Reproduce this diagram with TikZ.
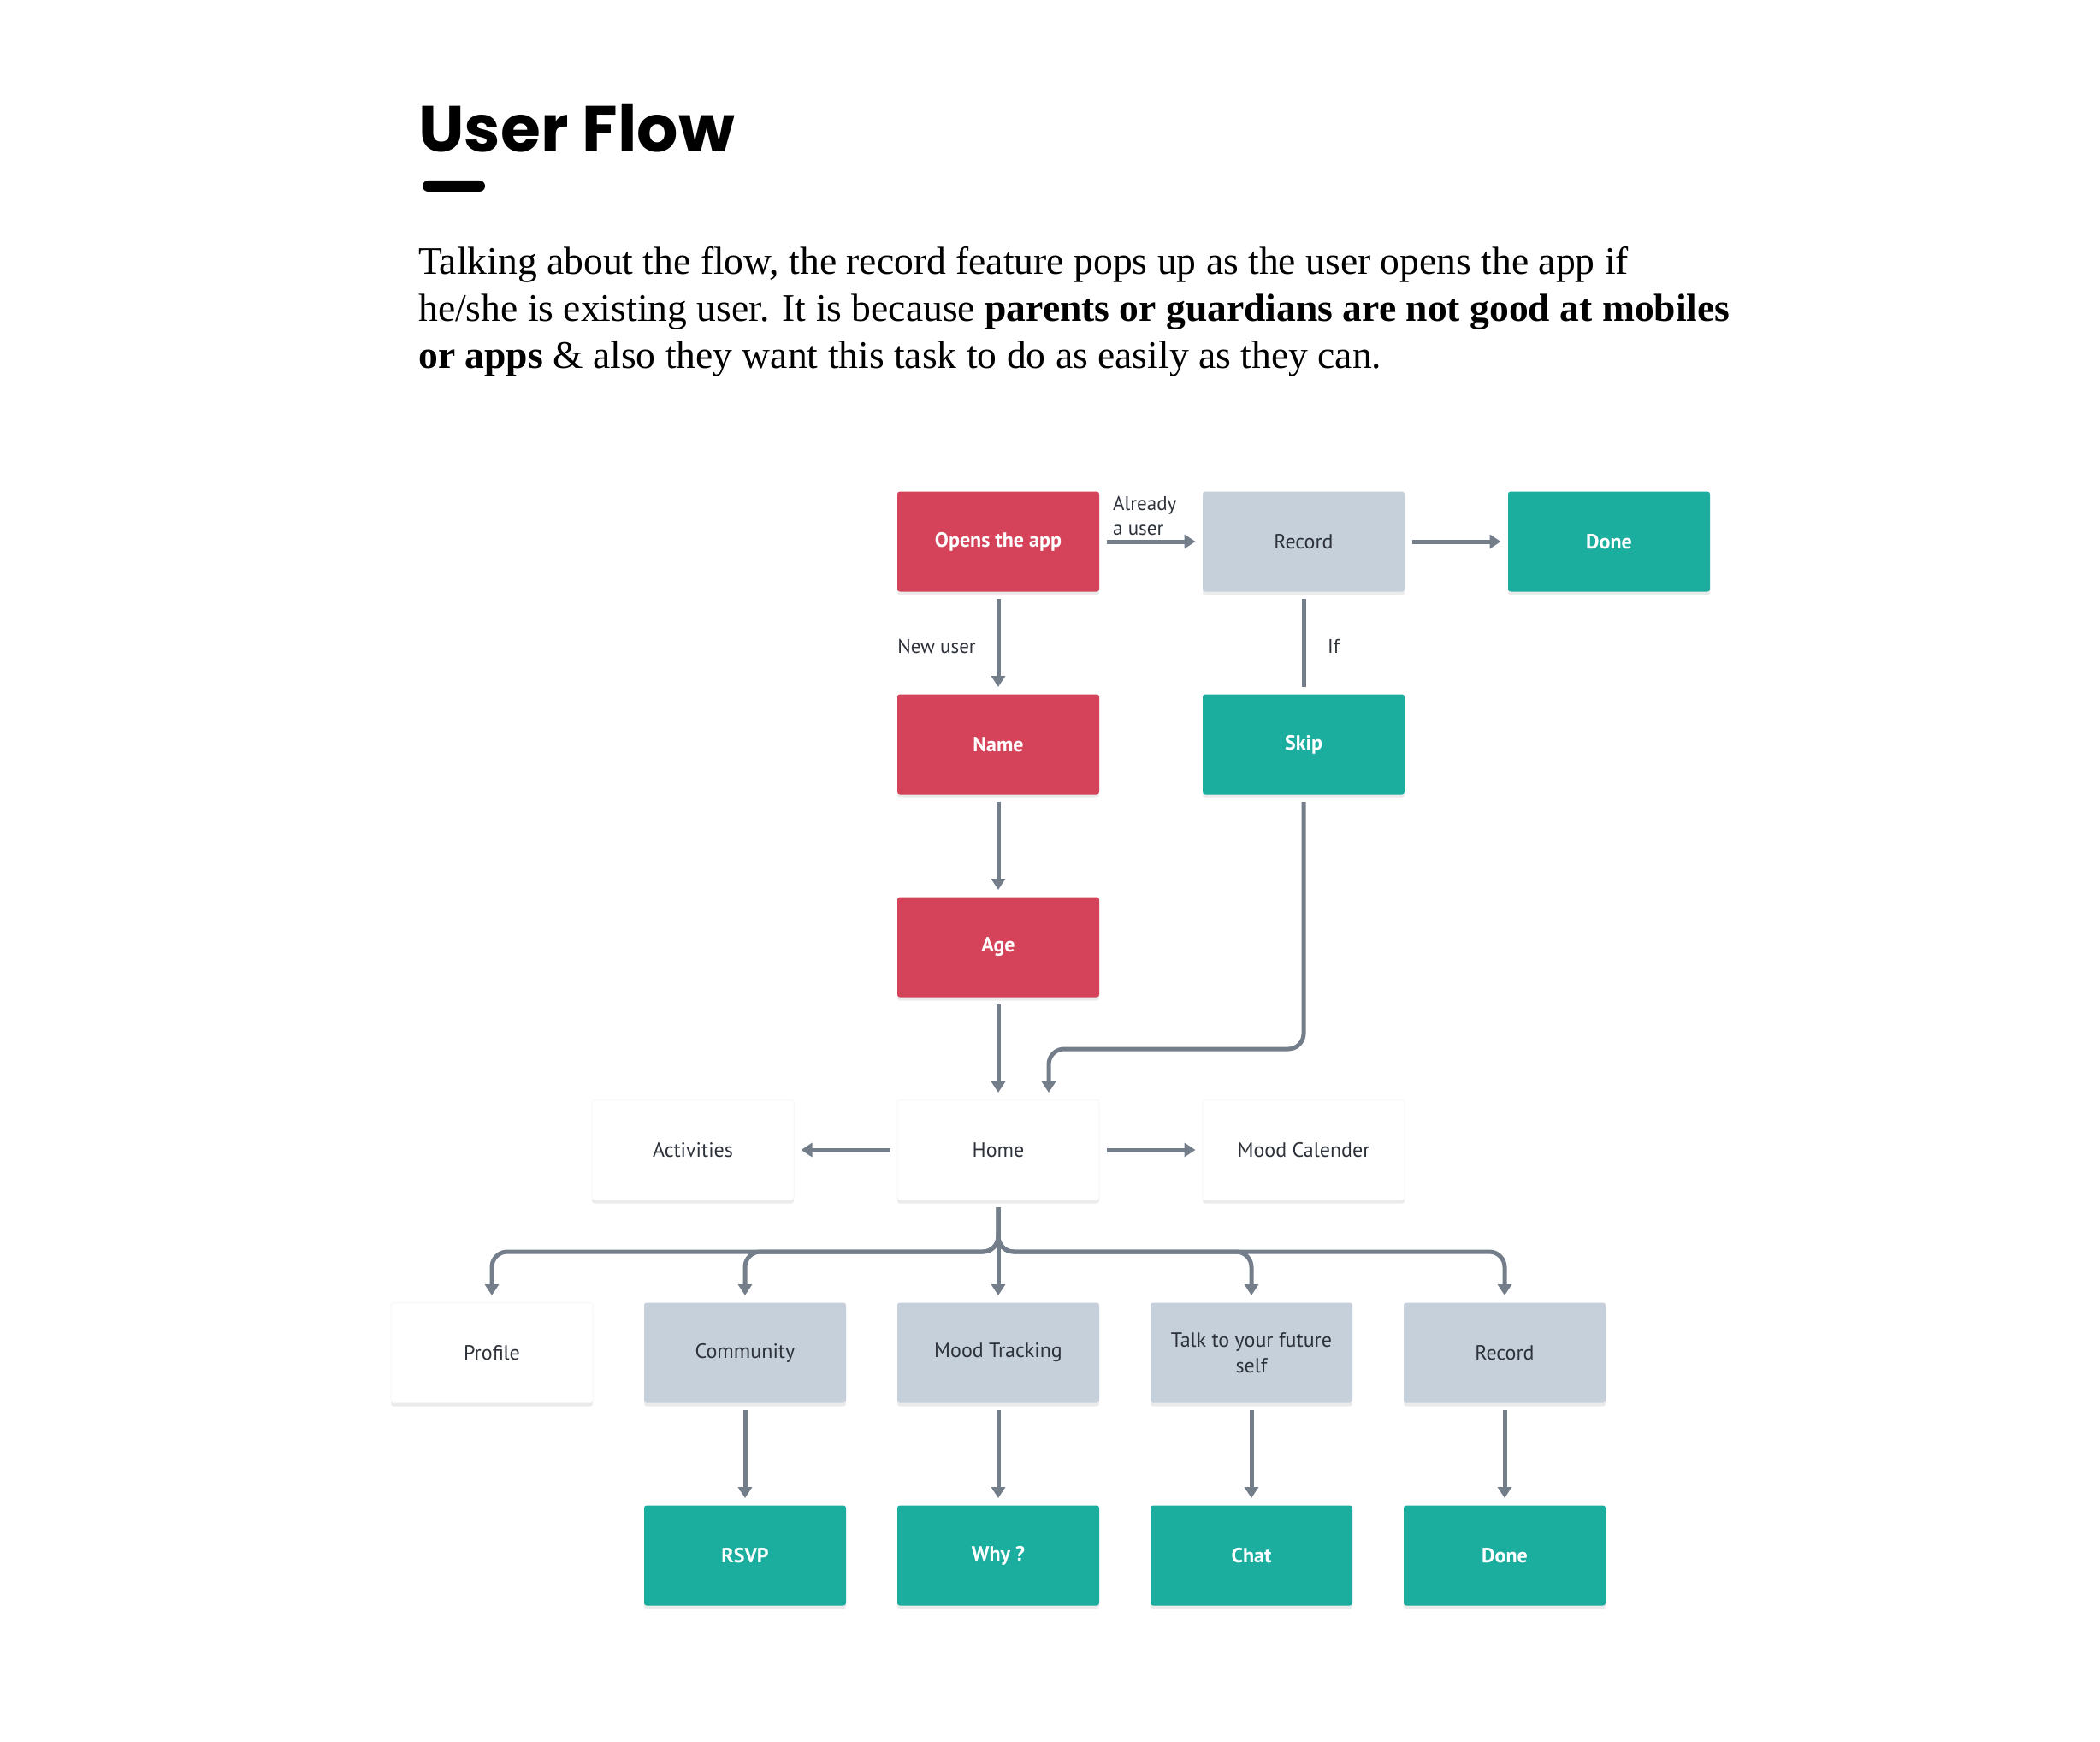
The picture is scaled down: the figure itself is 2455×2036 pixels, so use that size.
\documentclass[tikz,border=0pt]{standalone}
\usepackage{fontspec}
\setmainfont{Liberation Serif}
\newfontfamily\labfont{PT Sans}
\newfontfamily\titlefont{Poppins}
\usetikzlibrary{arrows.meta,shadows,calc}
\definecolor{cred}{RGB}{212,67,89}
\definecolor{cgray}{RGB}{197,208,218}
\definecolor{cteal}{RGB}{27,174,159}
\definecolor{cline}{RGB}{116,126,138}
\definecolor{ctext}{RGB}{45,50,58}
\begin{document}
\begin{tikzpicture}[x=1pt,y=-1pt,
  box/.style={minimum width=236pt, minimum height=117pt, rounded corners=3pt, inner sep=0pt, outer sep=8.5pt,
    font=\labfont\fontsize{24}{30}\selectfont, align=center,
    drop shadow={shadow xshift=0pt, shadow yshift=-4pt, opacity=0.08, fill=black}},
  redbox/.style={box, fill=cred, text=white, font=\labfont\bfseries\fontsize{24}{30}\selectfont},
  tealbox/.style={box, fill=cteal, text=white, font=\labfont\bfseries\fontsize{24}{30}\selectfont},
  graybox/.style={box, fill=cgray, text=ctext},
  whitebox/.style={box, fill=white, draw=black!3, line width=1pt, text=ctext},
  conn/.style={draw=cline, line width=5pt, -{Triangle[length=13pt,width=16pt]}},
  plainline/.style={draw=cline, line width=5pt},
  elabel/.style={inner sep=0pt, text=ctext, font=\labfont\fontsize{23}{29}\selectfont, align=left},
  bodytext/.style={inner sep=0pt, anchor=base west, font=\fontsize{45.6}{55}\selectfont}
]
\useasboundingbox (0,0) rectangle (2455,2036);
\fill[white] (0,0) rectangle (2455,2036);

% heading
\node[inner sep=0pt, anchor=base west] (title) at (489,178) {\titlefont\bfseries\fontsize{76}{80}\selectfont User Flow};
\fill[black, rounded corners=6.5pt] (494,211) rectangle (567,224);
\node[bodytext] (body1) at (489,320) {Talking about the flow, the record feature pops up as the user opens the app if};
\node[bodytext] (body2) at (489,375) {he/she is existing user. It is because \textbf{parents or guardians are not good at mobiles}};
\node[bodytext] (body3) at (489,430) {\textbf{or apps} \& also they want this task to do as easily as they can.};

% nodes
\node[redbox] (open) at (1167,633) {Opens the app};
\node[graybox] (rec1) at (1524,633) {Record};
\node[tealbox] (done1) at (1881,633) {Done};
\node[redbox] (name) at (1167,870) {Name};
\node[tealbox] (skip) at (1524,870) {Skip};
\node[redbox] (age) at (1167,1107) {Age};
\node[whitebox] (home) at (1167,1344) {Home};
\node[whitebox] (act) at (810,1344) {Activities};
\node[whitebox] (cal) at (1524,1344) {Mood Calender};
\node[whitebox] (prof) at (575,1581) {Profile};
\node[graybox] (comm) at (871,1581) {Community};
\node[graybox] (mt) at (1167,1581) {Mood Tracking};
\node[graybox] (talk) at (1463,1581) {Talk to your future\\self};
\node[graybox] (rec2) at (1759,1581) {Record};
\node[tealbox] (rsvp) at (871,1818) {RSVP};
\node[tealbox] (why) at (1167,1818) {Why ?};
\node[tealbox] (chat) at (1463,1818) {Chat};
\node[tealbox] (done2) at (1759,1818) {Done};

% edge labels
\node[elabel, anchor=south west] (lalready) at (1301,626) {Already\\a user};
\node[elabel, anchor=east] (lnew) at (1141,755) {New user};
\node[elabel, anchor=west] (lif) at (1552,755) {If};

% connectors
\draw[conn] (open.east) -- (rec1.west);
\draw[conn] (rec1.east) -- (done1.west);
\draw[conn] (open.south) -- (name.north);
\draw[plainline] (rec1.south) -- (skip.north);
\draw[conn] (name.south) -- (age.north);
\draw[conn] (age.south) -- (home.north);
\coordinate (skipturn) at (1226,1226);
\draw[conn, rounded corners=18pt] (skip.south) |- (skipturn) -- ([xshift=59pt]home.north);
\draw[conn] (home.west) -- (act.east);
\draw[conn] (home.east) -- (cal.west);
\coordinate (bus) at (1167,1463);
\foreach \t in {prof,comm,talk,rec2}{
  \draw[conn, rounded corners=18pt] (home.south) -- (home.south |- bus) -- (bus -| \t.north) -- (\t.north);
}
\draw[conn] (home.south) -- (mt.north);
\draw[conn] (comm.south) -- (rsvp.north);
\draw[conn] (mt.south) -- (why.north);
\draw[conn] (talk.south) -- (chat.north);
\draw[conn] (rec2.south) -- (done2.north);
\end{tikzpicture}
\end{document}
